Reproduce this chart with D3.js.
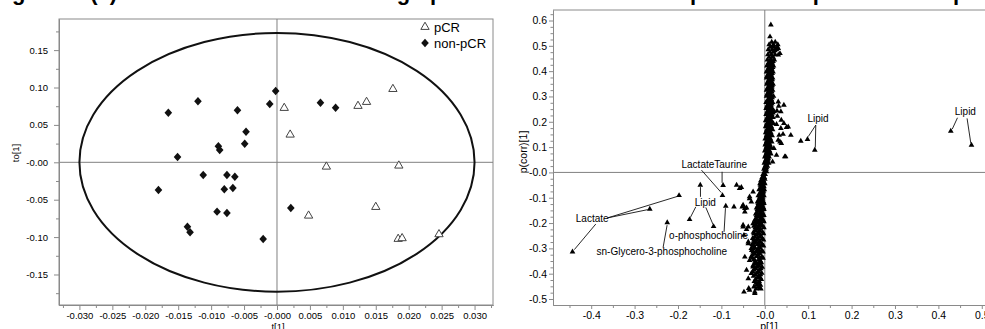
<!DOCTYPE html>
<html><head><meta charset="utf-8">
<script src="https://cdn.jsdelivr.net/npm/d3@7"></script>
<style>
body{margin:0;background:#fff;overflow:hidden}
svg{display:block}
text{font-family:"Liberation Sans",Arial,Helvetica,sans-serif;fill:#000}
</style>
</head><body>
<svg id="chart" width="985" height="329"></svg>
<script>
// ---------- DATA ----------
// Panel (a): OPLS-DA scores  [t[1], to[1]]
const scoreNonPCR = [
[-0.0165,0.0663],[-0.0120,0.0816],[-0.0060,0.0695],[-0.0047,0.0409],[-0.0049,0.0249],
[-0.0089,0.0214],[-0.0087,0.0164],[-0.0151,0.0071],[-0.0112,-0.0170],[-0.0076,-0.0170],
[-0.0064,-0.0193],[-0.0180,-0.0370],[-0.0080,-0.0361],[-0.0067,-0.0344],[-0.0091,-0.0660],
[-0.0076,-0.0678],[-0.0136,-0.0861],[-0.0132,-0.0936],[-0.0002,0.0953],[-0.0011,0.0779],
[0.0066,0.0797],[0.0089,0.0730],[0.0021,-0.0611],[-0.0021,-0.1025]];
const scorePCR = [
[0.0011,0.0726],[0.0020,0.0369],[0.0075,-0.0059],[0.0048,-0.0714],[0.0123,0.0753],
[0.0136,0.0806],[0.0176,0.0979],[0.0185,-0.0045],[0.0150,-0.0598],[0.0184,-0.1025],
[0.0190,-0.1016],[0.0246,-0.0963]];
const ellipseRadii = [0.030, 0.173];
const scoreXTicks = [-0.030,-0.025,-0.020,-0.015,-0.010,-0.005,0,0.005,0.010,0.015,0.020,0.025,0.030];
const scoreXLabels = ["-0.030","-0.025","-0.020","-0.015","-0.010","-0.005","-0.000","0.005","0.010","0.015","0.020","0.025","0.030"];
const scoreYTicks = [-0.15,-0.10,-0.05,0,0.05,0.10,0.15];
const scoreYLabels = ["-0.15","-0.10","-0.05","-0.00","0.05","0.10","0.15"];
const legendItems = ["pCR","non-pCR"];

// Panel (b): S-plot  [p[1], p(corr)[1]]
const loadCore = [
[0.014,0.583],[0.012,0.536],[0.016,0.515],[0.024,0.515],[0.010,0.505],[0.020,0.505],[0.030,0.505],
[0.013,0.495],[0.022,0.495],[0.008,0.485],[0.017,0.485],[0.027,0.485],[0.012,0.475],[0.020,0.475],
[0.007,0.465],[0.015,0.465],[0.024,0.465],[0.010,0.455],[0.019,0.455],[0.006,0.445],[0.014,0.445],
[0.022,0.445],[0.009,0.433],[0.017,0.433],[0.005,0.421],[0.013,0.421],[0.020,0.421],[0.008,0.409],
[0.016,0.409],[0.004,0.397],[0.012,0.397],[0.019,0.397],[0.007,0.385],[0.015,0.385],[0.004,0.373],
[0.011,0.373],[0.018,0.373],[0.008,0.361],[0.015,0.361],[0.005,0.349],[0.012,0.349],[0.019,0.349],
[0.008,0.337],[0.016,0.337],[0.004,0.325],[0.011,0.325],[0.018,0.325],[0.007,0.313],[0.014,0.313],
[0.004,0.301],[0.011,0.301],[0.020,0.301],[0.008,0.289],[0.015,0.289],[0.003,0.277],[0.010,0.277],
[0.018,0.277],[0.006,0.265],[0.014,0.265],[0.003,0.253],[0.010,0.253],[0.017,0.253],[0.006,0.241],
[0.013,0.241],[0.021,0.241],[0.003,0.229],[0.009,0.229],[0.016,0.229],[0.006,0.217],[0.012,0.217],
[0.019,0.217],[0.002,0.205],[0.009,0.205],[0.015,0.205],[0.005,0.193],[0.012,0.193],[0.020,0.193],
[0.002,0.181],[0.008,0.181],[0.015,0.181],[0.005,0.169],[0.011,0.169],[0.018,0.169],[0.002,0.157],
[0.008,0.157],[0.014,0.157],[0.004,0.145],[0.010,0.145],[0.017,0.145],[0.001,0.133],[0.007,0.133],
[0.013,0.133],[0.004,0.121],[0.010,0.121],[0.016,0.121],[0.001,0.109],[0.006,0.109],[0.012,0.109],
[0.003,0.097],[0.009,0.097],[0.015,0.097],[0.000,0.085],[0.006,0.085],[0.011,0.085],[0.003,0.073],
[0.008,0.073],[0.014,0.073],[0.000,0.061],[0.005,0.061],[0.010,0.061],[0.002,0.049],[0.007,0.049],
[-0.001,0.037],[0.004,0.037],[0.009,0.037],[0.001,0.025],[0.006,0.025],[-0.002,0.013],[0.003,0.013],
[-0.001,0.003],[0.004,0.003],[-0.004,-0.008],[0.001,-0.008],
[-0.006,-0.020],[-0.001,-0.020],[-0.009,-0.032],[-0.003,-0.032],[-0.011,-0.044],[-0.005,-0.044],
[0.000,-0.044],[-0.008,-0.056],[-0.002,-0.056],[-0.013,-0.068],[-0.006,-0.068],[-0.001,-0.068],
[-0.010,-0.080],[-0.004,-0.080],[-0.015,-0.092],[-0.008,-0.092],[-0.002,-0.092],[-0.011,-0.104],
[-0.005,-0.104],[-0.017,-0.116],[-0.009,-0.116],[-0.003,-0.116],[-0.013,-0.128],[-0.006,-0.128],
[-0.019,-0.140],[-0.010,-0.140],[-0.003,-0.140],[-0.014,-0.152],[-0.007,-0.152],[-0.021,-0.164],
[-0.011,-0.164],[-0.004,-0.164],[-0.016,-0.176],[-0.008,-0.176],[-0.023,-0.188],[-0.012,-0.188],
[-0.004,-0.188],[-0.018,-0.200],[-0.009,-0.200],[-0.025,-0.212],[-0.014,-0.212],[-0.005,-0.212],
[-0.019,-0.224],[-0.010,-0.224],[-0.026,-0.236],[-0.015,-0.236],[-0.005,-0.236],[-0.020,-0.248],
[-0.010,-0.248],[-0.028,-0.260],[-0.016,-0.260],[-0.006,-0.260],[-0.021,-0.272],[-0.011,-0.272],
[-0.029,-0.284],[-0.017,-0.284],[-0.006,-0.284],[-0.023,-0.296],[-0.012,-0.296],[-0.030,-0.308],
[-0.018,-0.308],[-0.007,-0.308],[-0.024,-0.320],[-0.012,-0.320],[-0.031,-0.332],[-0.019,-0.332],
[-0.007,-0.332],[-0.025,-0.344],[-0.013,-0.344],[-0.020,-0.356],[-0.008,-0.356],[-0.027,-0.368],
[-0.014,-0.368],[-0.021,-0.380],[-0.009,-0.380],[-0.028,-0.392],[-0.015,-0.392],[-0.022,-0.404],
[-0.010,-0.404],[-0.017,-0.416],[-0.011,-0.416],[-0.024,-0.430],[-0.013,-0.430],[-0.018,-0.445],
[-0.010,-0.445],[-0.020,-0.460],[-0.009,-0.460]];
const loadCoreDense = [
[0.011,0.439],[0.019,0.439],[0.007,0.427],[0.015,0.427],[0.010,0.415],[0.018,0.415],[0.006,0.403],
[0.014,0.403],[0.009,0.391],[0.017,0.391],[0.005,0.379],[0.013,0.379],[0.010,0.367],[0.017,0.367],
[0.006,0.355],[0.014,0.355],[0.010,0.343],[0.017,0.343],[0.006,0.331],[0.013,0.331],[0.009,0.319],
[0.016,0.319],[0.005,0.307],[0.013,0.307],[0.010,0.295],[0.017,0.295],[0.006,0.283],[0.013,0.283],
[0.008,0.271],[0.016,0.271],[0.005,0.259],[0.012,0.259],[0.008,0.247],[0.015,0.247],[0.005,0.235],
[0.012,0.235],[0.019,0.235],[0.008,0.223],[0.015,0.223],[0.005,0.211],[0.012,0.211],[0.008,0.199],
[0.016,0.199],[0.004,0.187],[0.011,0.187],[0.008,0.175],[0.014,0.175],[0.004,0.163],[0.011,0.163],
[0.006,0.151],[0.013,0.151],[0.004,0.139],[0.010,0.139],[0.006,0.127],[0.012,0.127],[0.003,0.115],
[0.009,0.115],[0.005,0.103],[0.011,0.103],[0.003,0.091],[0.008,0.091],[0.005,0.079],[0.010,0.079],
[0.002,0.067],[0.007,0.067],[0.004,0.055],[0.008,0.055],[0.001,0.043],[0.006,0.043],[0.003,0.031],
[0.000,0.019],[0.004,0.019],
[-0.003,-0.014],[-0.006,-0.026],[0.000,-0.026],[-0.008,-0.038],[-0.002,-0.038],[-0.010,-0.050],
[-0.004,-0.050],[-0.010,-0.062],[-0.004,-0.062],[-0.009,-0.074],[-0.003,-0.074],[-0.012,-0.086],
[-0.006,-0.086],[-0.012,-0.098],[-0.005,-0.098],[-0.014,-0.110],[-0.006,-0.110],[-0.015,-0.122],
[-0.008,-0.122],[-0.002,-0.122],[-0.016,-0.134],[-0.007,-0.134],[-0.017,-0.146],[-0.010,-0.146],
[-0.002,-0.146],[-0.018,-0.158],[-0.010,-0.158],[-0.019,-0.170],[-0.012,-0.170],[-0.002,-0.170],
[-0.020,-0.182],[-0.008,-0.182],[-0.021,-0.194],[-0.015,-0.194],[-0.002,-0.194],[-0.021,-0.206],
[-0.010,-0.206],[-0.022,-0.218],[-0.016,-0.218],[-0.002,-0.218],[-0.022,-0.230],[-0.012,-0.230],
[-0.025,-0.242],[-0.015,-0.242],[-0.003,-0.242],[-0.023,-0.254],[-0.012,-0.254],[-0.025,-0.266],
[-0.019,-0.266],[-0.003,-0.266],[-0.025,-0.278],[-0.014,-0.278],[-0.027,-0.290],[-0.012,-0.290],
[-0.003,-0.290],[-0.026,-0.302],[-0.015,-0.302],[-0.027,-0.314],[-0.013,-0.314],[-0.004,-0.314],
[-0.028,-0.326],[-0.016,-0.326],[-0.029,-0.338],[-0.013,-0.338],[-0.004,-0.338],[-0.022,-0.350],
[-0.010,-0.350],[-0.024,-0.362],[-0.011,-0.362],[-0.018,-0.374],[-0.006,-0.374],[-0.025,-0.386],
[-0.012,-0.386],[-0.018,-0.398],[-0.007,-0.398],[-0.026,-0.410],[-0.014,-0.410],[-0.021,-0.422],
[-0.008,-0.422],[-0.020,-0.437],[-0.015,-0.437],[-0.014,-0.452],[-0.025,-0.452]];
const loadScatter = [
[0.029,0.494],[0.023,0.481],[0.031,0.464],[0.018,0.457],[0.019,0.499],[0.035,0.470],[0.031,0.490],
[0.044,0.266],[0.032,0.262],[0.037,0.240],[0.029,0.222],[0.027,0.190],[0.044,0.194],[0.037,0.174],
[0.050,0.178],[0.060,0.147],[0.042,0.151],[0.033,0.147],[0.031,0.128],[0.038,0.115],[0.021,0.095],
[0.048,0.062],[0.018,0.042],[0.027,0.068],[0.031,0.279],[0.028,0.243],[0.038,0.207],[0.054,0.180],
[0.035,0.121],[0.046,0.062],
[-0.065,-0.050],[-0.054,-0.059],[-0.058,-0.063],[-0.071,-0.136],[-0.052,-0.136],[-0.046,-0.142],
[-0.042,-0.140],[-0.035,-0.103],[-0.050,-0.129],[-0.031,-0.116],[-0.035,-0.096],[-0.027,-0.077],
[-0.046,-0.156],[-0.050,-0.208],[-0.050,-0.215],[-0.038,-0.215],[-0.027,-0.202],[-0.042,-0.225],
[-0.048,-0.248],[-0.038,-0.274],[-0.038,-0.281],[-0.027,-0.281],[-0.031,-0.300],[-0.019,-0.314],
[-0.046,-0.334],[-0.035,-0.347],[-0.027,-0.373],[-0.015,-0.360],[-0.042,-0.386],[-0.031,-0.399],
[-0.038,-0.419],[-0.048,-0.472],[-0.037,-0.458],[-0.035,-0.465],[-0.023,-0.478],[-0.012,-0.458],
[-0.023,-0.472]];
const loadNamed = [
[-0.4431,-0.3138],[-0.2650,-0.1451],[-0.1975,-0.0909],[-0.2247,-0.1984],[-0.1733,-0.1858],
[-0.1486,-0.0502],[-0.1180,-0.2134],[-0.0975,-0.0909],[-0.0961,-0.0510],[-0.0899,-0.1332],
[0.0829,0.1237],[0.0984,0.1304],[0.1152,0.0881],[0.4286,0.1632],[0.4763,0.1079]];
const annLabels = ["Lactate","LactateTaurine","Lipid","o-phosphocholine","sn-Glycero-3-phosphocholine","Lipid","Lipid"];
const annAt = [[-0.4355,-0.1964],[-0.1919,0.017],[-0.1613,-0.1312],[-0.2205,-0.2617],[-0.3878,-0.3269],[0.0984,0.1988],[0.4378,0.2265]];
const annLines = [
[-0.3618,-0.1794,-0.2016,-0.0949],[-0.3618,-0.1794,-0.2696,-0.1470],[-0.3894,-0.2040,-0.4389,-0.3051],
[-0.1459,0.0091,-0.1002,-0.0798],[-0.0984,0.0024,-0.0984,-0.0411],
[-0.1482,-0.0964,-0.1482,-0.0581],[-0.1590,-0.1360,-0.1717,-0.1787],[-0.1359,-0.1383,-0.1191,-0.2063],
[-0.0938,-0.2348,-0.0906,-0.1411],[-0.2343,-0.2964,-0.2251,-0.2083],
[0.1175,0.1870,0.1002,0.1415],[0.1175,0.1870,0.1164,0.0980],
[0.4440,0.2158,0.4320,0.1711],[0.4661,0.2134,0.4747,0.1158]];
const sXTicks = [-0.4,-0.3,-0.2,-0.1,0,0.1,0.2,0.3,0.4,0.5];
const sXLabels = ["-0.4","-0.3","-0.2","-0.1","-0.0","0.1","0.2","0.3","0.4","0.5"];
const sYTicks = [-0.5,-0.4,-0.3,-0.2,-0.1,0,0.1,0.2,0.3,0.4,0.5,0.6];
const sYLabels = ["-0.5","-0.4","-0.3","-0.2","-0.1","-0.0","0.1","0.2","0.3","0.4","0.5","0.6"];
const titleWords = ["Figure 3. (a) OPLS-DA scores","showing","pCR","S-plot","top","plot"];
const titleX = [-7.6,321,430,668,792,953];

// ---------- DRAW ----------
const svg = d3.select("#chart");
const AX = "#8a8a8a", ZERO = "#808080";

// caption (cropped at the top edge, as in the source figure)
svg.selectAll("text.title").data(titleWords).join("text")
  .attr("class","title").attr("x",(d,i)=>titleX[i]).attr("y",-0.5)
  .style("font-size","22px").style("font-weight","bold").text(d=>d);

function minorOf(ticks){ const s=ticks[1]-ticks[0]; const out=[]; ticks.forEach(t=>out.push(t-s/2)); out.push(ticks[ticks.length-1]+s/2); return out; }
function minorQ(ticks){ const s=ticks[1]-ticks[0]; const out=[]; ticks.forEach(t=>{out.push(t-s*0.75,t-s/2,t-s/4);}); const l=ticks[ticks.length-1]; out.push(l+s/4,l+s/2,l+s*0.75); return out; }

function styleAxis(g, fs){
  g.select(".domain").attr("stroke",AX);
  g.selectAll(".tick line").attr("stroke",AX);
  g.selectAll(".tick text").style("font-size",fs).attr("fill","#000");
}

// ===== Panel (a) =====
const xA = d3.scaleLinear().domain([-0.0331,0.0328]).range([59,493]);
const yA = d3.scaleLinear().domain([-0.1908,0.1916]).range([305,19]);
const gA = svg.append("g");
gA.append("rect").attr("x",xA.range()[0]).attr("y",yA.range()[1])
  .attr("width",xA.range()[1]-xA.range()[0]).attr("height",yA.range()[0]-yA.range()[1])
  .attr("fill","none").attr("stroke",AX);
gA.append("line").attr("x1",xA.range()[0]).attr("x2",xA.range()[1]).attr("y1",yA(0)).attr("y2",yA(0)).attr("stroke",ZERO);
gA.append("line").attr("x1",xA(0)).attr("x2",xA(0)).attr("y1",yA.range()[1]).attr("y2",yA.range()[0]).attr("stroke",ZERO);

const axAx = gA.append("g").attr("transform",`translate(0,${yA.range()[0]})`)
  .call(d3.axisBottom(xA).tickValues(scoreXTicks).tickFormat((d,i)=>scoreXLabels[i]).tickSize(5).tickSizeOuter(0).tickPadding(2));
styleAxis(axAx,"9.5px");
const axAxm = gA.append("g").attr("transform",`translate(0,${yA.range()[0]})`)
  .call(d3.axisBottom(xA).tickValues(minorOf(scoreXTicks).filter(v=>v>xA.domain()[0]&&v<xA.domain()[1])).tickFormat("").tickSize(3).tickSizeOuter(0));
styleAxis(axAxm,"9px");
const axAy = gA.append("g").attr("transform",`translate(${xA.range()[0]},0)`)
  .call(d3.axisLeft(yA).tickValues(scoreYTicks).tickFormat((d,i)=>scoreYLabels[i]).tickSize(5).tickSizeOuter(0).tickPadding(6));
styleAxis(axAy,"9.5px");
const axAym = gA.append("g").attr("transform",`translate(${xA.range()[0]},0)`)
  .call(d3.axisLeft(yA).tickValues(minorOf(scoreYTicks).filter(v=>v>yA.domain()[0]&&v<yA.domain()[1])).tickFormat("").tickSize(3).tickSizeOuter(0));
styleAxis(axAym,"9px");

gA.append("ellipse").attr("cx",xA(0)).attr("cy",yA(0))
  .attr("rx",xA(ellipseRadii[0])-xA(0)).attr("ry",yA(0)-yA(ellipseRadii[1]))
  .attr("fill","none").attr("stroke","#111").attr("stroke-width",2);

const diamond = "M0,-4.2L3.8,0L0,4.2L-3.8,0Z";
const triOpen = d3.symbol(d3.symbolTriangle,30)();
gA.selectAll("path.np").data(scoreNonPCR).join("path").attr("class","np")
  .attr("d",diamond).attr("transform",d=>`translate(${xA(d[0])},${yA(d[1])})`).attr("fill","#111");
gA.selectAll("path.p").data(scorePCR).join("path").attr("class","p")
  .attr("d",triOpen).attr("transform",d=>`translate(${xA(d[0])},${yA(d[1])})`)
  .attr("fill","#fff").attr("stroke","#444").attr("stroke-width",1);

// legend
const lg = gA.append("g");
lg.append("path").attr("d",triOpen).attr("transform","translate(425,27)").attr("fill","#fff").attr("stroke","#444");
lg.append("path").attr("d",diamond).attr("transform","translate(425,43)").attr("fill","#111");
lg.selectAll("text").data(legendItems).join("text").attr("x",434).attr("y",(d,i)=>31.5+i*16)
  .style("font-size","13px").text(d=>d);

gA.append("text").attr("transform","translate(18.5,153) rotate(-90)").attr("text-anchor","middle")
  .style("font-size","9.5px").text("to[1]");
gA.append("text").attr("x",278).attr("y",329.5).attr("text-anchor","middle").style("font-size","9.5px").text("t[1]");

// ===== Panel (b) =====
const xB = d3.scaleLinear().domain([-0.488,0.53]).range([553,994.8]);
const yB = d3.scaleLinear().domain([-0.5237,0.6415]).range([305,10]);
const gB = svg.append("g");
gB.append("line").attr("x1",xB.range()[0]).attr("x2",xB.range()[1]).attr("y1",yB.range()[1]).attr("y2",yB.range()[1]).attr("stroke",AX);
gB.append("line").attr("x1",xB.range()[0]).attr("x2",xB.range()[1]).attr("y1",yB(0)).attr("y2",yB(0)).attr("stroke",ZERO);
gB.append("line").attr("x1",xB(0)).attr("x2",xB(0)).attr("y1",yB.range()[1]).attr("y2",yB.range()[0]).attr("stroke",ZERO);

const axBx = gB.append("g").attr("transform",`translate(0,${yB.range()[0]})`)
  .call(d3.axisBottom(xB).tickValues(sXTicks).tickFormat((d,i)=>sXLabels[i]).tickSize(4).tickSizeOuter(0).tickPadding(3));
styleAxis(axBx,"10.5px");
const axBxm = gB.append("g").attr("transform",`translate(0,${yB.range()[0]})`)
  .call(d3.axisBottom(xB).tickValues(minorOf(sXTicks).filter(v=>v>xB.domain()[0]&&v<xB.domain()[1])).tickFormat("").tickSize(3).tickSizeOuter(0));
styleAxis(axBxm,"9px");
const axBy = gB.append("g").attr("transform",`translate(${xB.range()[0]},0)`)
  .call(d3.axisLeft(yB).tickValues(sYTicks).tickFormat((d,i)=>sYLabels[i]).tickSize(4).tickSizeOuter(0).tickPadding(2));
styleAxis(axBy,"10.5px");
const axBym = gB.append("g").attr("transform",`translate(${xB.range()[0]},0)`)
  .call(d3.axisLeft(yB).tickValues(minorQ(sYTicks).filter(v=>v>yB.domain()[0]&&v<yB.domain()[1])).tickFormat("").tickSize(2.5).tickSizeOuter(0));
styleAxis(axBym,"9px");

const triSmall = d3.symbol(d3.symbolTriangle,14)();
const allLoad = loadCore.concat(loadCoreDense, loadScatter, loadNamed);
gB.selectAll("path.ld").data(allLoad).join("path").attr("class","ld")
  .attr("d",triSmall).attr("transform",d=>`translate(${xB(d[0])},${yB(d[1])})`).attr("fill","#000");

gB.selectAll("line.ann").data(annLines).join("line").attr("class","ann")
  .attr("x1",d=>xB(d[0])).attr("y1",d=>yB(d[1])).attr("x2",d=>xB(d[2])).attr("y2",d=>yB(d[3]))
  .attr("stroke","#111").attr("stroke-width",0.9);
gB.selectAll("text.ann").data(annLabels).join("text").attr("class","ann")
  .attr("x",(d,i)=>xB(annAt[i][0])).attr("y",(d,i)=>yB(annAt[i][1]))
  .style("font-size","10px").text(d=>d);

gB.append("text").attr("transform","translate(527,152) rotate(-90)").attr("text-anchor","middle")
  .style("font-size","10.5px").text("p(corr)[1]");
gB.append("text").attr("x",769).attr("y",330).attr("text-anchor","middle").style("font-size","10.5px").text("p[1]");
</script>
</body></html>
